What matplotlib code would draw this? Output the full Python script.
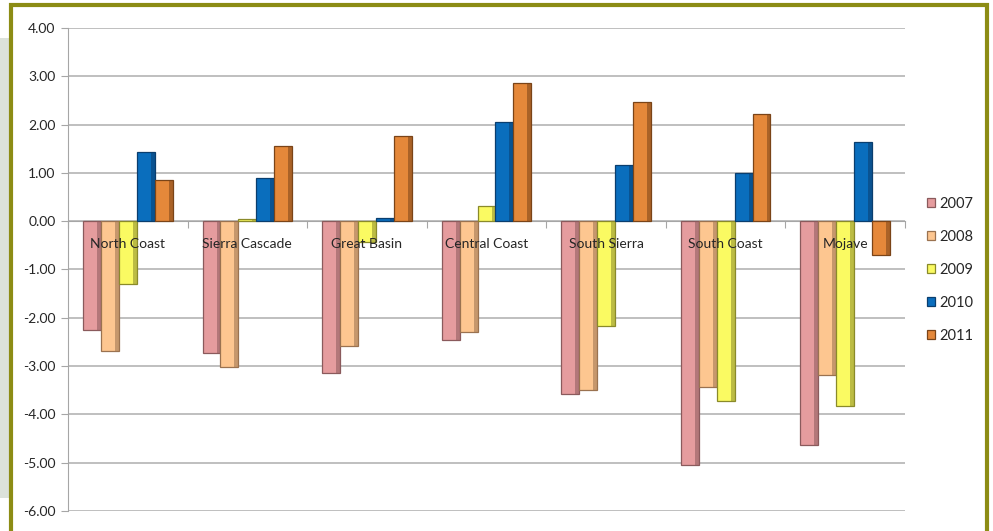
import matplotlib.pyplot as plt
import matplotlib.patches as mpatches
import numpy as np

# regions and yearly values
regions = ['North Coast', 'Sierra Cascade', 'Great Basin', 'Central Coast',
           'South Sierra', 'South Coast', 'Mojave']
years = ['2007', '2008', '2009', '2010', '2011']

v2007 = [-2.25, -2.72, -3.14, -2.46, -3.58, -5.05, -4.64]
v2008 = [-2.69, -3.02, -2.59, -2.30, -3.50, -3.44, -3.19]
v2009 = [-1.29, 0.05, -0.43, 0.32, -2.17, -3.72, -3.83]
v2010 = [1.43, 0.90, 0.07, 2.06, 1.16, 0.99, 1.64]
v2011 = [0.85, 1.55, 1.77, 2.86, 2.47, 2.21, -0.70]

series = [v2007, v2008, v2009, v2010, v2011]
colors = ['#E59C9E', '#FDC690', '#FAFA62', '#0A6EBD', '#E5883A']
edges = ['#8A5A5C', '#9A7250', '#8A8A2A', '#0A3E6E', '#7A4418']

fig = plt.figure(figsize=(9.93, 5.31), dpi=100)

# grey strip on the left and olive frame, like the slide behind the chart
fig.patches.append(mpatches.Rectangle((0, 1 - 498 / 531), 14 / 993, (498 - 38) / 531,
                                      transform=fig.transFigure, facecolor='#DCE2DA',
                                      edgecolor='none', zorder=-2))
fig.patches.append(mpatches.Rectangle((11 / 993, -0.05), (987 - 11) / 993, 1.05 - 5 / 531,
                                      transform=fig.transFigure, facecolor='white',
                                      edgecolor='#8C8C14', linewidth=3, zorder=-1))

ax = fig.add_axes([68 / 993, 1 - 511 / 531, (905 - 68) / 993, (511 - 28) / 531])
ax.set_facecolor('none')
ax.set_zorder(1)

x = np.arange(len(regions))
w = 0.15
for i, (vals, c, ec, yr) in enumerate(zip(series, colors, edges, years)):
    pos = x + (i - 2) * w
    ax.bar(pos, vals, w, color=c, edgecolor=ec, linewidth=0.9,
           label=yr, zorder=3)
    # darker strip on the right side for the bevelled look
    ax.bar(pos + w * 0.39, vals, w * 0.22, color=ec, alpha=0.55,
           linewidth=0, zorder=3.5)

ax.set_ylim(-6, 4)
ax.set_xlim(-0.5, len(regions) - 0.5)
ax.set_yticks(np.arange(-6, 5, 1))
ax.set_yticklabels([f'{t:.2f}' for t in np.arange(-6, 5, 1)])
ax.yaxis.grid(True, color='#B4B4B4', linewidth=1.2)
ax.set_axisbelow(True)

ax.spines['top'].set_visible(False)
ax.spines['right'].set_visible(False)
ax.spines['bottom'].set_position(('data', 0))
ax.spines['bottom'].set_color('#A6A6A6')
ax.spines['left'].set_color('#A6A6A6')
ax.spines['bottom'].set_zorder(2)

ax.set_xticks(np.arange(len(regions) + 1) - 0.5)
ax.set_xticklabels([])
ax.tick_params(axis='x', length=5, color='#A6A6A6', direction='out')
ax.tick_params(axis='y', length=5, color='#A6A6A6', labelsize=10, labelcolor='#262626', pad=4)
for lab in ax.get_yticklabels():
    lab.set_family('Lato')

# category names sit just under the zero line, on top of the bars
for xi, name in zip(x, regions):
    ax.text(xi, -0.48, name, ha='center', va='center', fontsize=10,
            family='Lato', color='#262626', zorder=5)

leg = fig.legend(loc='center left', bbox_to_anchor=(0.92, 0.492), frameon=False,
                 prop={'family': 'Lato', 'size': 10.5}, handlelength=0.6,
                 handleheight=0.6, handletextpad=0.3, labelspacing=1.3)
for t in leg.get_texts():
    t.set_color('#262626')

fig.savefig('out.png', dpi=100)
